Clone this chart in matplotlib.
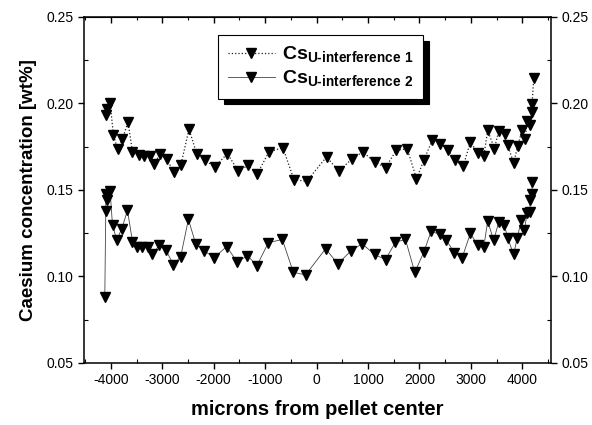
import matplotlib.pyplot as plt
from matplotlib.ticker import MultipleLocator, FormatStrFormatter

plt.rcParams['font.family'] = ['Liberation Sans', 'DejaVu Sans']
plt.rcParams['axes.unicode_minus'] = False
plt.rcParams['mathtext.fontset'] = 'custom'
plt.rcParams['mathtext.rm'] = 'Liberation Sans'
plt.rcParams['mathtext.bf'] = 'Liberation Sans:bold'

# series 1 (upper)
x1 = [-4098, -4065, -4014, -3948, -3870, -3773, -3665, -3579, -3451, -3354,
      -3237, -3160, -3049, -2913, -2771, -2641, -2480, -2330, -2161, -1981,
      -1734, -1521, -1334, -1152, -926, -654, -441, -194, 194, 433,
      693, 899, 1132, 1340, 1548, 1761, 1942, 2084, 2247, 2408,
      2550, 2699, 2849, 2991, 3132, 3249, 3327, 3457, 3540, 3670,
      3715, 3832, 3909, 3995, 4059, 4092, 4144, 4190, 4190, 4220]
cs1 = [0.1932, 0.1971, 0.2003, 0.1816, 0.1739, 0.1797, 0.1893, 0.1720, 0.1700, 0.1696,
       0.1695, 0.1648, 0.1706, 0.1677, 0.1604, 0.1642, 0.1851, 0.1710, 0.1671, 0.1633,
       0.1710, 0.1609, 0.1642, 0.1594, 0.1720, 0.1745, 0.1560, 0.1550, 0.1691, 0.1609,
       0.1681, 0.1720, 0.1662, 0.1629, 0.1729, 0.1739, 0.1565, 0.1671, 0.1787, 0.1768,
       0.1733, 0.1671, 0.1637, 0.1777, 0.1714, 0.1695, 0.1845, 0.1739, 0.1841, 0.1822,
       0.1758, 0.1656, 0.1753, 0.1845, 0.1797, 0.1899, 0.1874, 0.1951, 0.1996, 0.2145]

# series 2 (lower)
x2 = [-4117, -4098, -4098, -4065, -4014, -3967, -3884, -3787, -3676, -3579,
      -3482, -3385, -3276, -3191, -3063, -2932, -2783, -2641, -2492, -2350,
      -2189, -1994, -1748, -1540, -1346, -1159, -938, -666, -452, -214,
      175, 414, 674, 887, 1126, 1340, 1534, 1728, 1909, 2084,
      2227, 2394, 2525, 2680, 2829, 2991, 3132, 3249, 3327, 3443,
      3540, 3651, 3715, 3832, 3898, 3981, 4040, 4092, 4144, 4155,
      4189, 4189]
cs2 = [0.0883, 0.1378, 0.1479, 0.1440, 0.1494, 0.1295, 0.1212, 0.1276, 0.1382, 0.1202,
       0.1173, 0.1173, 0.1169, 0.1127, 0.1179, 0.1154, 0.1069, 0.1115, 0.1330, 0.1189,
       0.1150, 0.1108, 0.1173, 0.1082, 0.1121, 0.1063, 0.1195, 0.1214, 0.1024, 0.1009,
       0.1160, 0.1073, 0.1150, 0.1189, 0.1127, 0.1098, 0.1198, 0.1214, 0.1024, 0.1140,
       0.1262, 0.1243, 0.1208, 0.1138, 0.1108, 0.1250, 0.1179, 0.1169, 0.1320, 0.1208,
       0.1314, 0.1299, 0.1221, 0.1127, 0.1221, 0.1324, 0.1266, 0.1366, 0.1370, 0.1444,
       0.1479, 0.1546]

labels = ['Cs$_{\\mathbf{U\u2010interference\\ 1}}$',
          'Cs$_{\\mathbf{U\u2010interference\\ 2}}$']

fig = plt.figure(figsize=(5.92, 4.25), dpi=100)
ax = fig.add_axes([0.142, 0.146, 0.789, 0.814])

ax.plot(x1, cs1, ls=':', lw=0.9, color='#222222', marker='v', ms=7,
        mfc='black', mec='black', label=labels[0])
ax.plot(x2, cs2, ls='-', lw=0.6, color='#444444', marker='v', ms=7,
        mfc='black', mec='black', label=labels[1])

ax.set_xlim(-4520, 4560)
ax.set_ylim(0.05, 0.25)
ax.xaxis.set_major_locator(MultipleLocator(1000))
ax.xaxis.set_minor_locator(MultipleLocator(500))
ax.yaxis.set_major_locator(MultipleLocator(0.05))
ax.yaxis.set_minor_locator(MultipleLocator(0.025))
ax.yaxis.set_major_formatter(FormatStrFormatter('%.2f'))

for s in ax.spines.values():
    s.set_linewidth(1.1)

ax.tick_params(which='major', direction='out', length=4, width=1, labelsize=10)
ax.tick_params(which='minor', direction='in', length=3, width=0.8)
ax.tick_params(axis='y', which='both', left=True, right=True, labelright=True)

top = ax.secondary_xaxis('top')
top.xaxis.set_major_locator(MultipleLocator(1000))
top.xaxis.set_minor_locator(MultipleLocator(500))
top.tick_params(which='major', direction='in', length=4, width=1, labeltop=False)
top.tick_params(which='minor', direction='in', length=2.5, width=0.8)

ax.set_xlabel('microns from pellet center', fontsize=14.5, fontweight='bold', labelpad=9)
ax.set_ylabel('Caesium concentration [wt%]', fontsize=13.5, fontweight='bold', labelpad=7)

leg = ax.legend(loc='upper left', bbox_to_anchor=(0.287, 0.948), borderaxespad=0,
                fancybox=False, edgecolor='black', framealpha=1,
                shadow={'color': 'black', 'alpha': 1, 'ox': 4, 'oy': -4},
                prop={'size': 14, 'weight': 'bold'}, handlelength=2.4,
                handletextpad=0.4, borderpad=0.5, labelspacing=0.2)
leg.get_frame().set_linewidth(0.8)

fig.savefig('out.png', dpi=100)
